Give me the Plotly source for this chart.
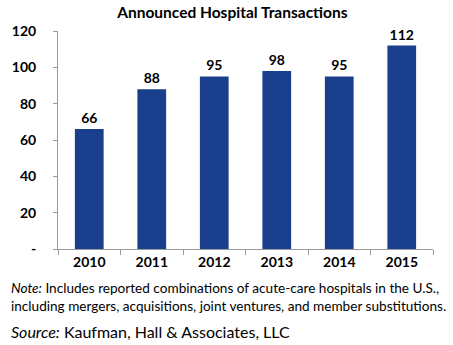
import plotly.graph_objects as go

years = ["2010", "2011", "2012", "2013", "2014", "2015"]
transactions = [66, 88, 95, 98, 95, 112]
y_ticks = [0, 20, 40, 60, 80, 100, 120]
y_tick_text = ["-", "20", "40", "60", "80", "100", "120"]

FONT = "Lato"
BAR = "#1a3f8d"

fig = go.Figure(
    go.Bar(
        x=years,
        y=transactions,
        marker=dict(color=BAR, line=dict(width=0)),
        text=[str(v) for v in transactions],
        textposition="outside",
        textfont=dict(family=FONT, size=14, color="#000000", weight="bold"),
        cliponaxis=False,
    )
)

fig.update_layout(
    width=453,
    height=345,
    margin=dict(l=53, r=20, t=31, b=96),
    paper_bgcolor="white",
    plot_bgcolor="white",
    bargap=0.54,
    showlegend=False,
    font=dict(family=FONT, color="#000000"),
    title=dict(
        text="<b>Announced Hospital Transactions</b>",
        x=0.513,
        xanchor="center",
        y=0.965,
        yanchor="middle",
        font=dict(family=FONT, size=15.5, color="#000000"),
    ),
)

fig.update_xaxes(
    showline=True,
    linecolor="#9a9a9a",
    linewidth=1,
    ticks="outside",
    ticklen=5,
    tickcolor="#9a9a9a",
    tickson="boundaries",
    tickfont=dict(family=FONT, size=14, color="#000000", weight="bold"),
    showgrid=False,
)

fig.update_yaxes(
    range=[0, 120],
    tickvals=y_ticks,
    ticktext=y_tick_text,
    showline=True,
    linecolor="#9a9a9a",
    linewidth=1,
    ticks="outside",
    ticklen=4,
    tickcolor="#9a9a9a",
    ticklabelstandoff=14,
    tickfont=dict(family=FONT, size=14, color="#000000", weight="bold"),
    showgrid=False,
    zeroline=False,
)

fig.add_annotation(
    text="<i>Note:</i> Includes reported combinations of acute-care hospitals in the U.S.,<br>including mergers, acquisitions, joint ventures, and member substitutions.",
    xref="paper", yref="paper",
    x=-0.13, y=-0.135,
    xanchor="left", yanchor="top",
    align="left",
    showarrow=False,
    font=dict(family=FONT, size=13.6, color="#000000"),
)

fig.add_annotation(
    text="<i>Source:</i> Kaufman, Hall & Associates, LLC",
    xref="paper", yref="paper",
    x=-0.13, y=-0.325,
    xanchor="left", yanchor="top",
    align="left",
    showarrow=False,
    font=dict(family=FONT, size=16, color="#000000"),
)

fig.write_html("out.html")
